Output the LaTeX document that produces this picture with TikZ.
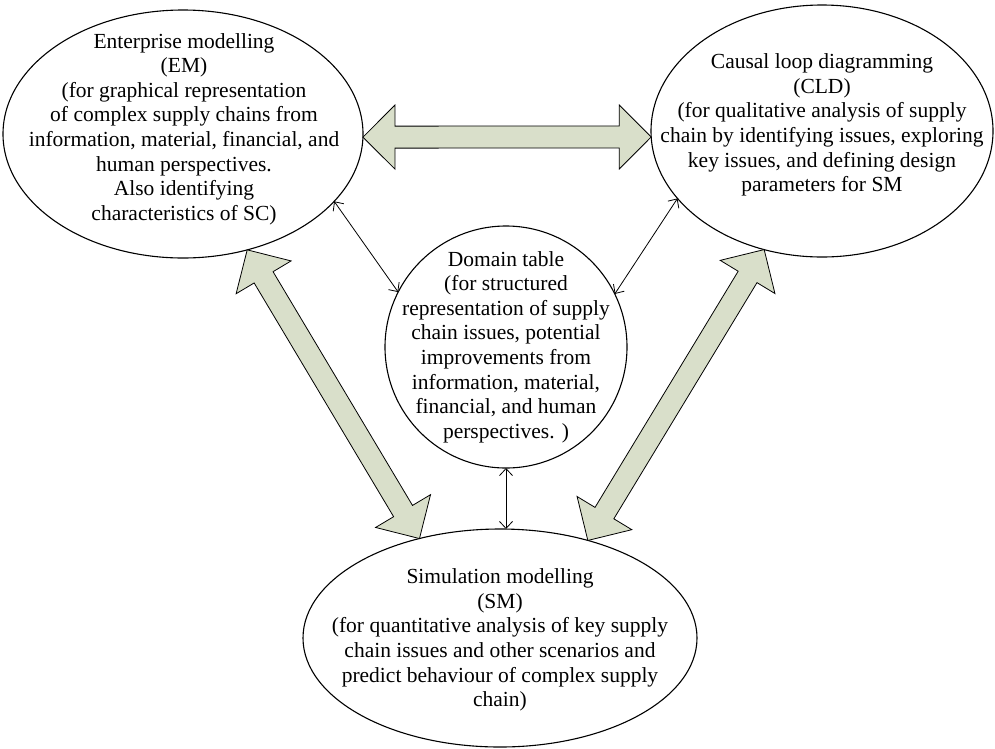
\documentclass[tikz,border=0pt]{standalone}
\usepackage{fontspec}
\setmainfont{Liberation Serif}
\usetikzlibrary{shapes.geometric,calc,arrows.meta}
\definecolor{arrowfill}{RGB}{217,223,202}
\tikzset{
  shapebox/.style={draw=black, line width=1.1pt, inner sep=0pt, outer sep=0pt},
  labeltext/.style={align=center, font=\fontsize{21.5}{24.6}\selectfont, inner sep=0pt},
  thinarrow/.style={draw=black, line width=0.8pt,
    {Straight Barb[length=7pt,width=13pt]}-{Straight Barb[length=7pt,width=13pt]}},
  bigarrow/.style={draw=black, line width=0.8pt, fill=arrowfill, line join=miter},
}
\newcommand{\dblarrow}[2]{%
  \path[bigarrow] (#1)
    -- ($(#1)!32pt!(#2)!32pt!90:(#2)$)
    -- ($(#1)!32pt!(#2)!11pt!90:(#2)$)
    -- ($(#2)!32pt!(#1)!11pt!-90:(#1)$)
    -- ($(#2)!32pt!(#1)!32pt!-90:(#1)$)
    -- (#2)
    -- ($(#2)!32pt!(#1)!32pt!90:(#1)$)
    -- ($(#2)!32pt!(#1)!11pt!90:(#1)$)
    -- ($(#1)!32pt!(#2)!11pt!-90:(#2)$)
    -- ($(#1)!32pt!(#2)!32pt!-90:(#2)$)
    -- cycle;}
\begin{document}
\begin{tikzpicture}[x=1pt,y=-1pt]
\useasboundingbox (0,0) rectangle (995,748);
% shapes
\node[shapebox, ellipse, minimum width=360pt, minimum height=248pt] (EM) at (183,134) {};
\node[shapebox, ellipse, minimum width=342pt, minimum height=252pt] (CLD) at (822,131) {};
\node[shapebox, circle, minimum size=242pt] (DT) at (506,347) {};
\node[shapebox, ellipse, minimum width=394pt, minimum height=218pt] (SM) at (500,638) {};
% texts
\node[labeltext] (EMt) at (184,129) {Enterprise modelling\\(EM)\\(for graphical representation\\of complex supply chains from\\information, material, financial, and\\human perspectives.\\Also identifying\\characteristics of SC)};
\node[labeltext] (CLDt) at (822,125) {Causal loop diagramming\\(CLD)\\(for qualitative analysis of supply\\chain by identifying issues, exploring\\key issues, and defining design\\parameters for SM};
\node[labeltext] (DTt) at (506,347) {Domain table\\(for structured\\representation of supply\\chain issues, potential\\improvements from\\information, material,\\financial, and human\\perspectives. )};
\node[labeltext] (SMt) at (500,640) {Simulation modelling\\(SM)\\(for quantitative analysis of key supply\\chain issues and other scenarios and\\predict behaviour of complex supply\\chain)};
% anchor points for big arrows
\coordinate (emR) at (EM.-1.6);
\coordinate (cldL) at (CLD.182.7);
\coordinate (emB) at (EM.-61.5);
\coordinate (smL) at (SM.129.4);
\coordinate (smR) at (SM.48.1);
\coordinate (cldB) at (CLD.244);
\dblarrow{emR}{cldL}
\dblarrow{emB}{smL}
\dblarrow{smR}{cldB}
% thin arrows
\draw[thinarrow] (EM.-24.7) -- (DT.153.2);
\draw[thinarrow] (CLD.205.9) -- (DT.26.8);
\draw[thinarrow] (DT.south) -- (SM.north -| DT.south);
\end{tikzpicture}
\end{document}
